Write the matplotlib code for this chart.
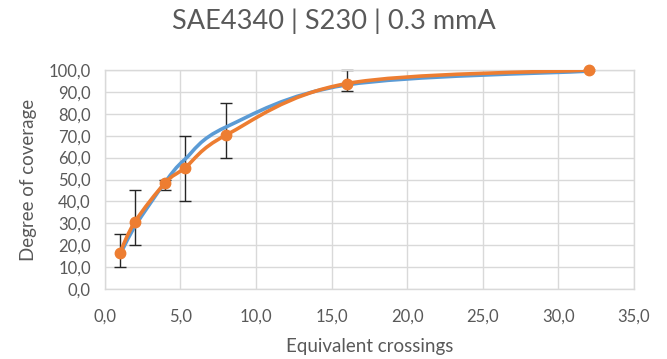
import matplotlib
matplotlib.use("Agg")
import matplotlib.pyplot as plt
from matplotlib.path import Path
from matplotlib.patches import PathPatch
from matplotlib.ticker import FuncFormatter, MultipleLocator

# Data
crossings = [1.0, 2.0, 4.0, 5.3, 8.0, 16.0, 32.0]
coverage_measured = [16.5, 30.7, 48.5, 55.3, 70.2, 93.8, 100.0]
err_low = [10.0, 20.0, 45.0, 40.0, 60.0, 90.5, 100.0]
err_high = [25.0, 45.0, 50.0, 70.0, 85.0, 100.0, 100.0]
coverage_fit = [15.5, 28.6, 48.8, 59.2, 73.9, 93.2, 99.5]

TITLE = "SAE4340 | S230 | 0.3 mmA"
XLABEL = "Equivalent crossings"
YLABEL = "Degree of coverage"

BLUE = "#5B9BD5"
ORANGE = "#ED7D31"
TEXT = "#595959"
GRID = "#D9D9D9"

plt.rcParams["font.family"] = ["Lato", "DejaVu Sans"]


def smooth_path(xs, ys):
    """Excel-like smoothed line (Catmull-Rom as cubic Bezier)."""
    pts = list(zip(xs, ys))
    n = len(pts)
    verts = [pts[0]]
    codes = [Path.MOVETO]
    for i in range(n - 1):
        p0 = pts[i - 1] if i > 0 else pts[i]
        p1 = pts[i]
        p2 = pts[i + 1]
        p3 = pts[i + 2] if i + 2 < n else pts[i + 1]
        c1 = (p1[0] + (p2[0] - p0[0]) / 6, p1[1] + (p2[1] - p0[1]) / 6)
        c2 = (p2[0] - (p3[0] - p1[0]) / 6, p2[1] - (p3[1] - p1[1]) / 6)
        verts += [c1, c2, p2]
        codes += [Path.CURVE4] * 3
    return Path(verts, codes)


fig = plt.figure(figsize=(6.67, 3.59), dpi=100)
ax = fig.add_axes([0.157, 0.195, 0.7935, 0.61])

# error bars
yerr = [[m - lo for m, lo in zip(coverage_measured, err_low)],
        [hi - m for m, hi in zip(coverage_measured, err_high)]]
eb = ax.errorbar(crossings, coverage_measured, yerr=yerr, fmt="none",
                 ecolor="#262626", elinewidth=1.0, capsize=4, capthick=1.0,
                 zorder=2)
for art in eb.lines[1] + eb.lines[2]:
    art.set_clip_on(False)

ax.add_patch(PathPatch(smooth_path(crossings, coverage_fit), fill=False,
                       edgecolor=BLUE, linewidth=2.6, zorder=3,
                       capstyle="round", joinstyle="round"))
ax.add_patch(PathPatch(smooth_path(crossings, coverage_measured), fill=False,
                       edgecolor=ORANGE, linewidth=2.6, zorder=4,
                       capstyle="round", joinstyle="round"))
ax.plot(crossings, coverage_measured, "o", color=ORANGE, markersize=7.5,
        zorder=5, clip_on=False)

ax.set_xlim(0, 35)
ax.set_ylim(0, 100)
ax.xaxis.set_major_locator(MultipleLocator(5))
ax.yaxis.set_major_locator(MultipleLocator(10))
fmt = FuncFormatter(lambda v, p: f"{v:.1f}".replace(".", ","))
ax.xaxis.set_major_formatter(fmt)
ax.yaxis.set_major_formatter(fmt)

ax.grid(True, color=GRID, linewidth=1.0, zorder=0)
ax.set_axisbelow(True)
for s in ax.spines.values():
    s.set_color(GRID)
    s.set_linewidth(1.0)
ax.tick_params(length=0, labelsize=12, colors=TEXT)
ax.tick_params(axis="x", pad=14)
ax.tick_params(axis="y", pad=10)

ax.set_xlabel(XLABEL, fontsize=13.5, color=TEXT, labelpad=10)
ax.set_ylabel(YLABEL, fontsize=13.5, color=TEXT, labelpad=8)
fig.suptitle(TITLE, fontsize=19.5, color=TEXT, y=0.975)

fig.savefig("out.png", dpi=100)
